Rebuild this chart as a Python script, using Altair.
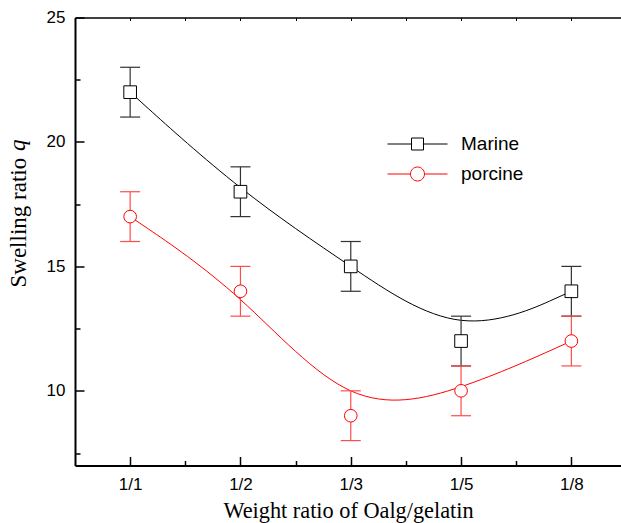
import json
import altair as alt
import pandas as pd

# Swelling ratio q of Oalg/gelatin hydrogels (marine vs porcine gelatin)
ratios = ["1/1", "1/2", "1/3", "1/5", "1/8"]
series_names = ["Marine", "porcine"]
marine = [22, 18, 15, 12, 14]
marine_err = [1, 1, 1, 1, 1]
porcine = [17, 14, 9, 10, 12]
porcine_err = [1, 1, 1, 1, 1]

rows = []
for name, vals, errs in [("Marine", marine, marine_err), ("porcine", porcine, porcine_err)]:
    for i, (r, v, e) in enumerate(zip(ratios, vals, errs)):
        rows.append({"series": name, "ratio": r, "pos": i + 1,
                     "value": v, "lo": v - e, "hi": v + e})
df = pd.DataFrame(rows)

W, H = 546, 448
SANS = "Liberation Sans"
SERIF = "Liberation Serif"
xs = alt.Scale(domain=[0.5, 5.45], nice=False, zero=False)
ys = alt.Scale(domain=[7, 25], nice=False, zero=False)

label_expr = json.dumps(ratios) + "[datum.value - 1]"
x_ticks = [1, 1.5, 2, 2.5, 3, 3.5, 4, 4.5, 5]
y_ticks = [7.5, 10, 12.5, 15, 17.5, 20, 22.5, 25]

# bottom axis: labels and title only
ax_x_main = alt.Axis(orient="bottom", values=[1, 2, 3, 4, 5], labelExpr=label_expr,
                     ticks=False, grid=False, domain=True, domainColor="black", domainWidth=2,
                     labelFont=SANS, labelFontSize=17, labelColor="black", labelPadding=11,
                     title="Weight ratio of Oalg/gelatin", titleFont=SERIF, titleFontSize=22.3,
                     titleFontWeight="normal", titleColor="black",
                     titleBaseline="alphabetic", titleY=52)
# inward ticks on the bottom edge
ax_x_in = alt.Axis(orient="top", offset=-H, values=x_ticks, labels=False, domain=False,
                   grid=False, ticks=True, tickColor="black", tickWidth=1.5,
                   tickSize={"condition": {"test": "datum.value % 1 === 0", "value": 9}, "value": 5},
                   title=None)
# top frame line with small inward ticks
ax_x_top = alt.Axis(orient="bottom", offset=-H, values=x_ticks, labels=False, domain=True,
                    domainColor="black", domainWidth=1.5, grid=False, ticks=True,
                    tickColor="black", tickWidth=1, tickSize=3, title=None)
# left axis: labels and title
ax_y_main = alt.Axis(orient="left", values=[10, 15, 20, 25], ticks=False, grid=False,
                     domain=True, domainColor="black", domainWidth=2,
                     labelFont=SANS, labelFontSize=17, labelColor="black", labelPadding=10,
                     title="Swelling ratio", titleFont=SERIF, titleFontSize=23,
                     titleFontWeight="normal", titleColor="black", titleAngle=270,
                     titleAlign="left", titleBaseline="alphabetic", titleX=-50, titleY=269.5)
# inward ticks on the left edge
ax_y_in = alt.Axis(orient="right", offset=-W, values=y_ticks, labels=False, domain=False,
                   grid=False, ticks=True, tickColor="black", tickWidth=1.5,
                   tickSize={"condition": {"test": "datum.value % 5 === 0", "value": 9}, "value": 5},
                   title=None)

styles = {
    "Marine": {"line": "black", "err": "#333333", "shape": "square", "size": 160},
    "porcine": {"line": "#ff0000", "err": "#ff4d4d", "shape": "circle", "size": 160},
}

def X(axis=None):
    return alt.X("pos:Q", scale=xs, axis=axis)

def Y(field, axis=None):
    return alt.Y(field, scale=ys, axis=axis)

base = alt.Chart(df)

lines, bars, caps, points = [], [], [], []
for name in series_names:
    st = styles[name]
    sub = base.transform_filter(alt.datum.series == name)
    if name == "Marine":
        xa, ya = ax_x_main, ax_y_main
    else:
        xa, ya = ax_x_in, ax_y_in
    lines.append(sub.mark_line(interpolate="basis", strokeWidth=1, color=st["line"]).encode(
        x=X(xa), y=Y("value:Q", ya)))
    bars.append(sub.mark_rule(strokeWidth=1.2, color=st["err"]).encode(
        x=X(ax_x_top if name == "Marine" else None), y=Y("lo:Q"), y2="hi:Q"))
    caps.append(sub.transform_fold(["lo", "hi"], as_=["end", "v"]).mark_tick(
        orient="horizontal", size=20, thickness=1.2, color=st["err"], opacity=1).encode(
        x=X(), y=Y("v:Q")))
    points.append(sub.mark_point(shape=st["shape"], size=st["size"], filled=True, fill="white",
                                 stroke=st["line"], strokeWidth=1, opacity=1).encode(
        x=X(), y=Y("value:Q")))

# legend symbols: line segment through the marker
path_marine = "M-3,0H-0.6M0.6,0H3M-0.6,-0.6H0.6V0.6H-0.6Z"
path_porcine = "M-3,0H-0.7M0.7,0H3M-0.7,0A0.7,0.7,0,1,0,0.7,0A0.7,0.7,0,1,0,-0.7,0Z"
leg = alt.Legend(title=None, orient="none", legendX=332, legendY=116, symbolSize=400,
                 symbolStrokeWidth=1, symbolFillColor="white", symbolOpacity=1,
                 labelFont=SANS, labelFontSize=19, labelColor="black", labelOffset=33,
                 rowPadding=9, padding=0)
legend_layer = base.transform_filter("false").mark_point(filled=True, fill="white",
                                                         strokeWidth=1, opacity=1).encode(
    x=X(), y=Y("value:Q"),
    stroke=alt.Stroke("series:N", scale=alt.Scale(domain=series_names, range=["black", "#ff0000"]),
                      legend=leg),
    shape=alt.Shape("series:N", scale=alt.Scale(domain=series_names, range=[path_marine, path_porcine]),
                    legend=leg),
)

# italic q of the y title
q_text = alt.Chart(pd.DataFrame({"t": ["q"]})).mark_text(
    angle=270, align="left", baseline="alphabetic", font=SERIF, fontSize=23,
    fontStyle="italic", color="black").encode(
    x=alt.value(-50), y=alt.value(133.5), text="t:N")

chart = alt.layer(*lines, *bars, *caps, *points, legend_layer, q_text).properties(
    width=W, height=H,
    autosize=alt.AutoSizeParams(type="none"),
    padding={"left": 75, "top": 17.5, "right": 0, "bottom": 57.5},
).resolve_axis(x="independent", y="independent").configure_view(strokeWidth=0)

chart.save("out.html", embed_options={"renderer": "svg", "actions": False})
